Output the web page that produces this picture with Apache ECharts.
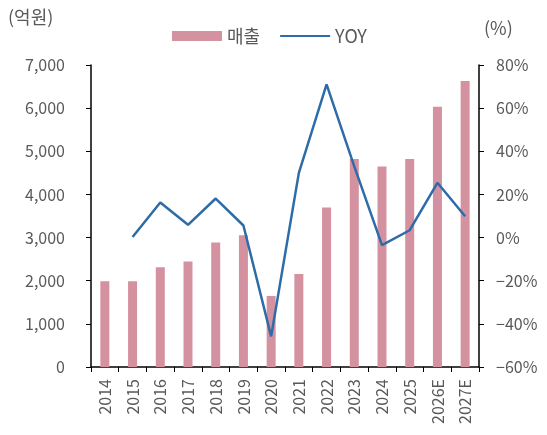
<!DOCTYPE html>
<html><head><meta charset="utf-8">
<script src="https://cdn.jsdelivr.net/npm/echarts@6/dist/echarts.min.js"></script>
<style>html,body{margin:0;padding:0;background:#fff}#c{width:547px;height:435px}</style>
</head><body><div id="c"></div>
<script>
const categories = ['2014','2015','2016','2017','2018','2019','2020','2021','2022','2023','2024','2025','2026E','2027E'];
const sales = [1990, 1990, 2313, 2445, 2886, 3056, 1647, 2158, 3698, 4819, 4650, 4819, 6032, 6629];
const yoy = [null, 0.3, 16.3, 5.9, 18.1, 5.6, -45.8, 30.0, 71.0, 33.0, -3.5, 3.4, 25.4, 9.9];
const leftTicks = {min: 0, max: 7000, interval: 1000};
const rightTicks = {min: -60, max: 80, interval: 20};

const font = "'Noto Sans CJK KR', 'Noto Sans', sans-serif";
const txt = '#595959';
const chart = echarts.init(document.getElementById('c'), null, {renderer: 'canvas'});
chart.setOption({
  animation: false,
  textStyle: {fontFamily: font},
  grid: {left: 91, right: 68, top: 65, bottom: 68},
  graphic: [
    {type: 'text', left: 8, top: 8, style: {text: '(억원)', fill: txt, font: "18px " + font}},
    {type: 'text', left: 484, top: 19, style: {text: '(%)', fill: txt, font: "18px " + font}}
  ],
  legend: {
    top: 22, left: 167, itemWidth: 50, itemHeight: 10, itemGap: 19,
    textStyle: {color: txt, fontSize: 18, fontFamily: font},
    data: [{name: '매출', icon: 'rect'}, {name: 'YOY', itemStyle: {opacity: 0}}]
  },
  xAxis: {
    type: 'category', data: categories,
    axisLine: {lineStyle: {color: '#000', width: 1.5}},
    axisTick: {show: true, length: 5, lineStyle: {color: '#000'}},
    axisLabel: {rotate: 90, color: txt, fontSize: 16, fontFamily: font, margin: 12, interval: 0}
  },
  yAxis: [
    {type: 'value', min: leftTicks.min, max: leftTicks.max, interval: leftTicks.interval,
     axisLine: {show: true, lineStyle: {color: '#000', width: 1.5}},
     axisTick: {show: true, length: 5, lineStyle: {color: '#000'}},
     splitLine: {show: false},
     axisLabel: {color: txt, fontSize: 16, fontFamily: font, margin: 26,
       formatter: v => v.toLocaleString('en-US')}},
    {type: 'value', min: rightTicks.min, max: rightTicks.max, interval: rightTicks.interval,
     position: 'right',
     axisLine: {show: true, lineStyle: {color: '#000', width: 1.5}},
     axisTick: {show: true, length: 5, lineStyle: {color: '#000'}},
     splitLine: {show: false},
     axisLabel: {color: txt, fontSize: 16, fontFamily: font, margin: 17,
       formatter: v => (v < 0 ? '\u2212' + Math.abs(v) : v) + '%'}}
  ],
  series: [
    {name: '매출', type: 'bar', data: sales, yAxisIndex: 0, barWidth: 9,
     itemStyle: {color: '#D4919F'}},
    {name: 'YOY', type: 'line', data: yoy, yAxisIndex: 1, symbol: 'none',
     lineStyle: {color: '#2E6CA8', width: 2.5}, itemStyle: {color: '#2E6CA8'}}
  ]
});
</script></body></html>
